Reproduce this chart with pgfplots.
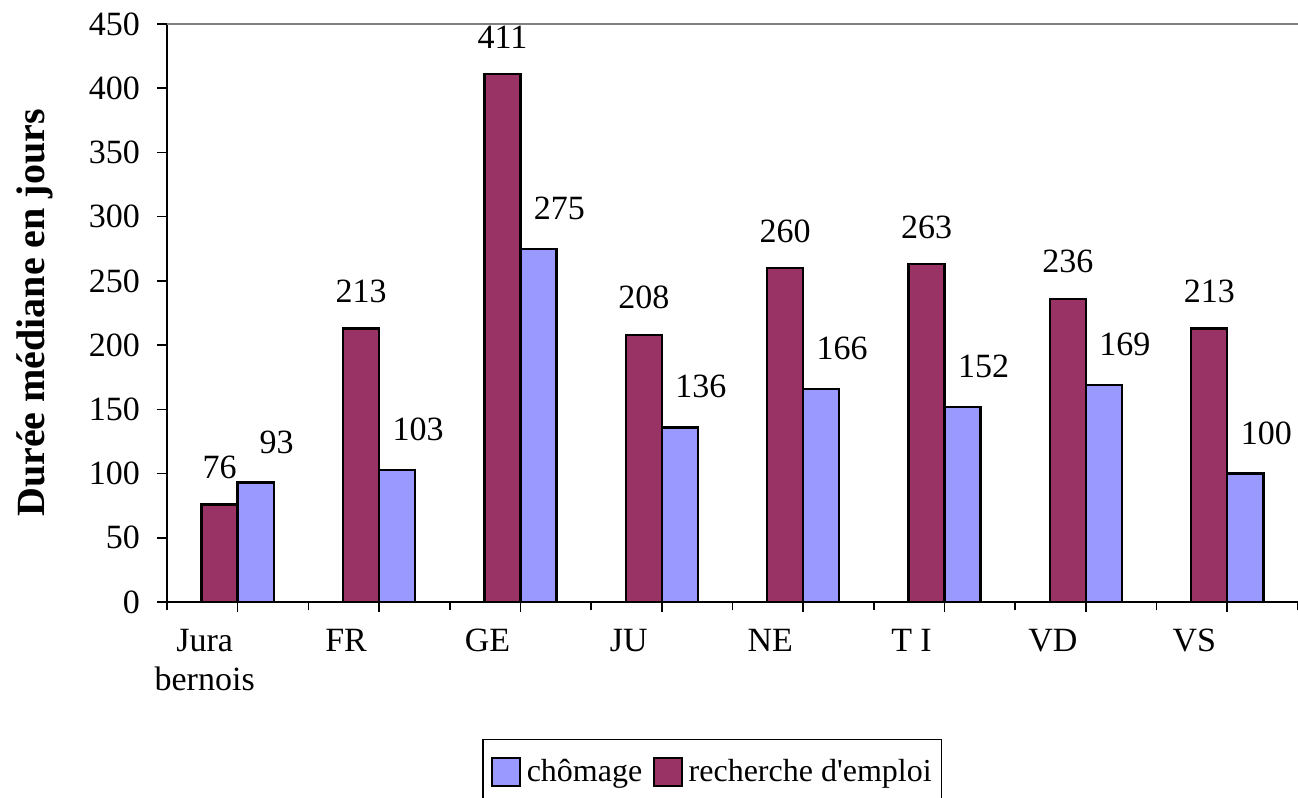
\documentclass[border=0pt]{standalone}
\usepackage{pgfplots}
\pgfplotsset{compat=1.18}
\usepackage{pgfplotstable}
\usepackage{fontspec}
\setmainfont{Liberation Serif}
\definecolor{plum}{HTML}{993366}
\definecolor{peri}{HTML}{9999FF}
\pgfplotstableread{
x rech chom
0 76 93
1 213 103
2 411 275
3 208 136
4 260 166
5 263 152
6 236 169
7 213 100
}\data
\begin{document}
\begin{tikzpicture}
\begin{axis}[
 at={(0,0)}, anchor=south west,
 scale only axis, width=565.5pt, height=289pt,
 xmin=-0.5, xmax=7.5, ymin=0, ymax=450,
 axis x line*=bottom, axis y line*=left,
 axis line style={line width=1pt, -},
 xtick={0,...,7}, minor xtick={-0.5,0.5,...,7.5},
 xticklabels={{Jura\\bernois},FR,GE,JU,NE,T I,VD,VS},
 ytick={0,50,...,450},
 tick align=outside, major tick length=5pt, minor tick length=4pt,
 tick style={black, line width=0.8pt},
 xticklabel style={align=center, font=\fontsize{17}{19.5}\selectfont, xshift=-16.5pt, yshift=-5pt, anchor=north},
 yticklabel style={font=\fontsize{17}{19}\selectfont, xshift=-5pt},
 /pgf/number format/assume math mode=true,
 ylabel={Durée médiane en jours},
 ylabel style={at={(axis description cs:-0.1167,0.5)}, anchor=center, font=\fontsize{20}{24}\selectfont\bfseries},
 legend style={at={(axis description cs:0.482,-0.237)}, anchor=north, draw=black, line width=0.6pt,
   font=\fontsize{16}{19}\selectfont, inner xsep=4pt, inner ysep=8pt, cells={anchor=west},
   nodes={inner xsep=0.8pt},
   /tikz/every even column/.append style={column sep=4.5pt}},
 legend columns=2,
 legend image code/.code={\draw[#1, line width=1pt] (0pt,-7pt) rectangle (14pt,7pt); \path (16pt,0pt);},
 clip=false,
]
\draw[gray, line width=1pt] (rel axis cs:0,1) -- (rel axis cs:1,1);
\addplot[ybar, bar width=0.255, bar shift=0.1275, fill=peri, draw=black, line width=1.2pt,
  nodes near coords, every node near coord/.append style={font=\fontsize{17}{19}\selectfont, text=black, anchor=south, inner sep=0pt, xshift=19.5pt, yshift=14pt}]
  table[x=x,y=chom]{\data};
\addlegendentry{chômage}
\addplot[ybar, bar width=0.255, bar shift=-0.1275, fill=plum, draw=black, line width=1.2pt,
  nodes near coords, every node near coord/.append style={font=\fontsize{17}{19}\selectfont, text=black, anchor=south, inner sep=0pt, xshift=-9pt, yshift=12.25pt}]
  table[x=x,y=rech]{\data};
\addlegendentry{recherche d\textquotesingle emploi}
\end{axis}
\pgfresetboundingbox
\path (-83.5pt,-98pt) rectangle (565.5pt,301pt);
\end{tikzpicture}
\end{document}
